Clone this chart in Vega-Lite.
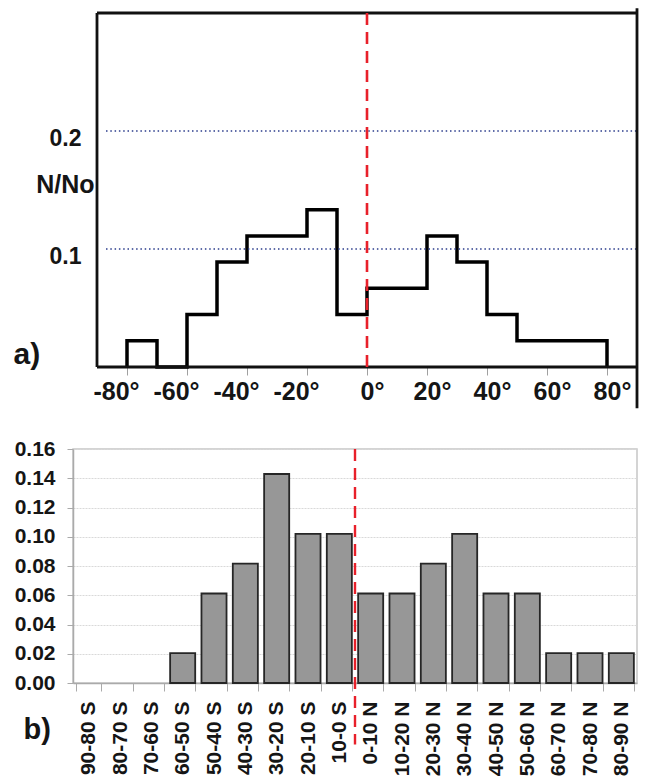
{
  "$schema": "https://vega.github.io/schema/vega-lite/v6.json",
  "background": "white",
  "padding": {"left": 13, "top": 6, "right": 5, "bottom": 0},
  "spacing": 27,
  "config": {
    "font": "Liberation Sans",
    "view": {"stroke": null},
    "axis": {"labelFont": "Liberation Sans", "titleFont": "Liberation Sans", "labelColor": "#151515", "titleColor": "#151515"}
  },
  "vconcat": [
    {
      "width": 564,
      "height": 354,
      "layer": [
        {
          "data": {"values": [{"i": 0, "lat": -80, "frac": 0}, {"i": 1, "lat": -80, "frac": 0.0222}, {"i": 2, "lat": -70, "frac": 0}, {"i": 3, "lat": -60, "frac": 0.0444}, {"i": 4, "lat": -50, "frac": 0.0889}, {"i": 5, "lat": -40, "frac": 0.1111}, {"i": 6, "lat": -30, "frac": 0.1111}, {"i": 7, "lat": -20, "frac": 0.1333}, {"i": 8, "lat": -10, "frac": 0.0444}, {"i": 9, "lat": 0, "frac": 0.0667}, {"i": 10, "lat": 10, "frac": 0.0667}, {"i": 11, "lat": 20, "frac": 0.1111}, {"i": 12, "lat": 30, "frac": 0.0889}, {"i": 13, "lat": 40, "frac": 0.0444}, {"i": 14, "lat": 50, "frac": 0.0222}, {"i": 15, "lat": 60, "frac": 0.0222}, {"i": 16, "lat": 70, "frac": 0.0222}, {"i": 17, "lat": 80, "frac": 0}]},
          "mark": {"type": "line", "interpolate": "step-after", "color": "#000000", "strokeWidth": 3.5, "strokeJoin": "miter"},
          "encoding": {
            "order": {"field": "i", "type": "quantitative"},
            "x": {
              "field": "lat", "type": "quantitative",
              "scale": {"domain": [-98, 90], "nice": false, "zero": false},
              "axis": {
                "values": [-80, -70, -60, -50, -40, -30, -20, -10, 0, 10, 20, 30, 40, 50, 60, 70, 80],
                "labelExpr": "datum.value % 20 == 0 ? datum.value + '°' : ''",
                "labelFontSize": 25, "labelFontWeight": "bold", "labelPadding": 4,
                "labelOffset": {"condition": {"test": "datum.value < 0", "value": -11}, "value": 5},
                "labelFlush": false, "labelOverlap": false,
                "tickSize": 8, "tickColor": "#a0a0a0", "tickWidth": 1,
                "domain": false, "grid": false,
                "title": "a)", "titleX": -60, "titleY": -13, "titleAlign": "left", "titleBaseline": "middle",
                "titleAngle": 0, "titleFontSize": 30, "titleFontWeight": "bold"
              }
            },
            "y": {
              "field": "frac", "type": "quantitative",
              "scale": {"domain": [0, 0.3], "nice": false},
              "axis": {
                "values": [0.1, 0.2], "format": ".1f",
                "labelFontSize": 23, "labelFontWeight": "bold", "labelPadding": -8, "labelOffset": 7,
                "labelOverlap": false,
                "ticks": false, "tickSize": 0, "domain": false, "grid": false,
                "title": "N/No", "titleAngle": 0, "titleX": 21, "titleY": 171, "titleAlign": "right", "titleBaseline": "middle",
                "titleFontSize": 25, "titleFontWeight": "bold"
              }
            }
          }
        },
        {
          "data": {"values": [{"g": 0.1}, {"g": 0.2}]},
          "mark": {"type": "rule", "color": "#2b3c8c", "strokeWidth": 1.5, "strokeDash": [1.5, 2.8]},
          "encoding": {
            "x": {"datum": -87, "type": "quantitative", "title": "a)"},
            "x2": {"datum": 90},
            "y": {"field": "g", "type": "quantitative", "title": "N/No"}
          }
        },
        {
          "data": {"values": [{}]},
          "mark": {"type": "rule", "color": "#111111", "strokeWidth": 2.8},
          "encoding": {"x": {"datum": -90, "type": "quantitative"}, "y": {"datum": 0, "type": "quantitative"}, "y2": {"datum": 0.3}}
        },
        {
          "data": {"values": [{}]},
          "mark": {"type": "rule", "color": "#111111", "strokeWidth": 2.8},
          "encoding": {"x": {"datum": -90, "type": "quantitative"}, "x2": {"datum": 90}, "y": {"datum": 0.3, "type": "quantitative"}}
        },
        {
          "data": {"values": [{}]},
          "mark": {"type": "rule", "color": "#111111", "strokeWidth": 2.8},
          "encoding": {"x": {"datum": -90, "type": "quantitative"}, "x2": {"datum": 90}, "y": {"datum": 0, "type": "quantitative"}}
        },
        {
          "data": {"values": [{}]},
          "mark": {"type": "rule", "color": "#111111", "strokeWidth": 2.8},
          "encoding": {"x": {"datum": 90, "type": "quantitative"}, "y": {"datum": -0.035, "type": "quantitative"}, "y2": {"datum": 0.304}}
        },
        {
          "data": {"values": [{}]},
          "mark": {"type": "rule", "color": "#e8202a", "strokeWidth": 2.6, "strokeDash": [12, 7]},
          "encoding": {"x": {"datum": 0, "type": "quantitative"}, "y": {"datum": 0, "type": "quantitative"}, "y2": {"datum": 0.3}}
        }
      ]
    },
    {
      "width": 564,
      "height": 234,
      "view": {"stroke": "#c6c6c6", "strokeWidth": 1.5},
      "layer": [
        {
          "data": {"values": [
            {"band": "90-80 S", "frac": 0}, {"band": "80-70 S", "frac": 0}, {"band": "70-60 S", "frac": 0},
            {"band": "60-50 S", "frac": 0.0204}, {"band": "50-40 S", "frac": 0.0612}, {"band": "40-30 S", "frac": 0.0816},
            {"band": "30-20 S", "frac": 0.1429}, {"band": "20-10 S", "frac": 0.102}, {"band": "10-0 S", "frac": 0.102},
            {"band": "0-10 N", "frac": 0.0612}, {"band": "10-20 N", "frac": 0.0612}, {"band": "20-30 N", "frac": 0.0816},
            {"band": "30-40 N", "frac": 0.102}, {"band": "40-50 N", "frac": 0.0612}, {"band": "50-60 N", "frac": 0.0612},
            {"band": "60-70 N", "frac": 0.0204}, {"band": "70-80 N", "frac": 0.0204}, {"band": "80-90 N", "frac": 0.0204}
          ]},
          "transform": [{"filter": "datum.frac > 0"}],
          "mark": {"type": "bar", "fill": "#979797", "stroke": "#262626", "strokeWidth": 1.8},
          "encoding": {
            "x": {
              "field": "band", "type": "nominal",
              "scale": {
                "domain": ["90-80 S", "80-70 S", "70-60 S", "60-50 S", "50-40 S", "40-30 S", "30-20 S", "20-10 S", "10-0 S", "0-10 N", "10-20 N", "20-30 N", "30-40 N", "40-50 N", "50-60 N", "60-70 N", "70-80 N", "80-90 N"],
                "paddingInner": 0.2, "paddingOuter": 0.1
              },
              "axis": {
                "labelAngle": -90, "labelAlign": "right", "labelBaseline": "middle",
                "labelFontSize": 21, "labelFontWeight": "bold", "labelPadding": 10,
                "tickBand": "extent", "tickSize": 8, "tickColor": "#aaaaaa", "domainColor": "#aaaaaa", "domainWidth": 1.5,
                "grid": false,
                "title": "b)", "titleX": -50, "titleY": 46, "titleAlign": "left", "titleBaseline": "middle",
                "titleAngle": 0, "titleFontSize": 29, "titleFontWeight": "bold"
              }
            },
            "y": {
              "field": "frac", "type": "quantitative",
              "scale": {"domain": [0, 0.16], "nice": false},
              "axis": {
                "values": [0, 0.02, 0.04, 0.06, 0.08, 0.1, 0.12, 0.14, 0.16], "format": ".2f",
                "labelFontSize": 21, "labelFontWeight": "bold", "labelPadding": 12, "labelOverlap": false,
                "tickSize": 6, "tickColor": "#aaaaaa", "domainColor": "#aaaaaa", "domainWidth": 1.5,
                "grid": true, "gridColor": "#d9d9d9", "gridDash": [2, 1], "gridWidth": 1,
                "title": null
              }
            }
          }
        },
        {
          "data": {"values": [{}]},
          "mark": {"type": "rule", "color": "#e8202a", "strokeWidth": 2.4, "strokeDash": [12, 7]},
          "encoding": {
            "x": {"datum": "0-10 N", "type": "nominal", "bandPosition": -0.125},
            "y": {
              "datum": 0.16, "type": "quantitative",
              "axis": {
                "values": [0, 0.02, 0.04, 0.06, 0.08, 0.1, 0.12, 0.14, 0.16], "format": ".2f",
                "labelFontSize": 21, "labelFontWeight": "bold", "labelPadding": 12, "labelOverlap": false,
                "tickSize": 6, "tickColor": "#aaaaaa", "domainColor": "#aaaaaa", "domainWidth": 1.5,
                "grid": true, "gridColor": "#d9d9d9", "gridDash": [2, 1], "gridWidth": 1,
                "title": null
              }
            },
            "y2": {"datum": -0.042}
          }
        }
      ]
    }
  ]
}
